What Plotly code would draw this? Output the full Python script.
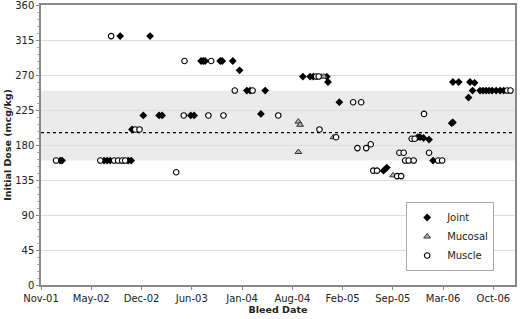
import pandas as pd
import plotly.graph_objects as go

# Bleed dates stored as Excel serial day numbers (as in the source workbook)
joint_date = [37276, 37284, 37451, 37463, 37475, 37547, 37559, 37515, 37634, 37562,
              37607, 37670, 37682, 37796, 37809, 37837, 37845, 37853, 37913, 37921,
              37963, 37990, 38019, 38032, 38092, 38075, 38242, 38271, 38283, 38337,
              38342, 38387, 38563, 38576, 38699, 38708, 38722, 38744, 38760, 38834,
              38839, 38839, 38862, 38907, 38925, 38917, 38947, 38959, 38971, 38983,
              38995, 39011, 39027, 39041, 38901]
joint_dose = [160, 160, 160, 160, 160, 160, 160, 320, 320, 200,
              218, 218, 218, 218, 218, 288, 288, 288, 288, 288,
              288, 276, 250, 250, 250, 220, 268, 268, 268, 268,
              261, 235, 147, 151, 190, 190, 189, 187, 160, 208,
              209, 261, 261, 261, 260, 250, 250, 250, 250, 250,
              250, 250, 250, 250, 241]

mucosal_date = [38224, 38231, 38224, 38315, 38325, 38364, 38601]
mucosal_dose = [210, 206, 171, 268, 268, 190, 141]

muscle_date = [37260, 37436, 37491, 37507, 37523, 37535, 37479, 37575, 37592, 37738,
               37768, 37866, 37926, 38144, 37771, 37877, 37971, 38042, 38308, 38295,
               38305, 38374, 38442, 38474, 38459, 38494, 38512, 38522, 38537, 38617,
               38633, 38626, 38643, 38744, 38649, 38663, 38683, 38675, 38687, 38724,
               38780, 38796, 39055, 39068]
muscle_dose = [160, 160, 160, 160, 160, 160, 320, 200, 200, 145,
               218, 218, 218, 218, 288, 288, 250, 250, 200, 268,
               268, 190, 235, 235, 176, 176, 181, 147, 147, 140,
               140, 170, 170, 170, 160, 160, 160, 188, 188, 220,
               160, 160, 250, 250]

band_low, band_high = 160, 250
mean_dose = 196

x_tick_serials = [37200, 37400, 37600, 37800, 38000, 38200, 38400, 38600, 38800, 39000]
x_tick_labels = ["Nov-01", "May-02", "Dec-02", "Jun-03", "Jan-04",
                 "Aug-04", "Feb-05", "Sep-05", "Mar-06", "Oct-06"]
x_range_serials = [37200, 39086]
y_ticks = [0, 45, 90, 135, 180, 225, 270, 315, 360]


def to_dt(s):
    return pd.to_datetime(pd.Series(s), unit="D", origin="1899-12-30")


x0, x1 = to_dt(x_range_serials)

FONT = "DejaVu Sans, Verdana, sans-serif"
fig = go.Figure()

fig.add_trace(go.Scatter(
    x=to_dt(joint_date), y=joint_dose, mode="markers", name="Joint",
    marker=dict(symbol="diamond", size=6, color="black", line=dict(width=0))))
fig.add_trace(go.Scatter(
    x=to_dt(mucosal_date), y=mucosal_dose, mode="markers", name="Mucosal",
    marker=dict(symbol="triangle-up", size=6, color="#b0b0b0",
                line=dict(width=1, color="#333333"))))
fig.add_trace(go.Scatter(
    x=to_dt(muscle_date), y=muscle_dose, mode="markers", name="Muscle",
    marker=dict(symbol="circle", size=5.5, color="white",
                line=dict(width=1.1, color="black"))))

# shaded range and dotted mean line
fig.add_shape(type="rect", xref="paper", x0=0, x1=1, yref="y",
              y0=band_low, y1=band_high, fillcolor="#ebebeb",
              line=dict(width=0), layer="below")
fig.add_shape(type="line", xref="paper", x0=0, x1=1, yref="y",
              y0=mean_dose, y1=mean_dose,
              line=dict(color="black", width=1.3, dash="dot"))

fig.update_layout(
    width=520, height=319,
    margin=dict(l=41, r=5, t=5, b=34, autoexpand=False),
    paper_bgcolor="white", plot_bgcolor="white",
    font=dict(family=FONT, size=10, color="#222222"),
    showlegend=True,
    legend=dict(x=0.956, y=0.05, xanchor="right", yanchor="bottom",
                bgcolor="white", bordercolor="#aaaaaa", borderwidth=1,
                font=dict(family=FONT, size=10, color="#222222"),
                tracegroupgap=0, itemwidth=30),
    xaxis=dict(
        type="date", range=[x0, x1], automargin=False, ticklabeloverflow="allow",
        tickmode="array", tickvals=list(to_dt(x_tick_serials)), ticktext=x_tick_labels,
        showgrid=False, zeroline=False,
        showline=True, linecolor="#888888", linewidth=1.5, mirror=True,
        ticks="outside", ticklen=3, tickcolor="#888888",
        tickfont=dict(size=10),
        title=dict(text="<b>Bleed Date</b>", font=dict(size=9.5), standoff=4),
    ),
    yaxis=dict(
        range=[0, 360], tickmode="array", tickvals=y_ticks, automargin=False,
        ticklabeloverflow="allow",
        showgrid=True, gridcolor="#dedede", gridwidth=1, zeroline=False,
        showline=True, linecolor="#888888", linewidth=1.5, mirror=True,
        ticks="outside", ticklen=3, tickcolor="#888888",
        minor=dict(dtick=9, ticks="outside", ticklen=2, tickcolor="#aaaaaa", showgrid=False),
        tickfont=dict(size=10),
        title=dict(text="<b>Initial Dose (mcg/kg)</b>", font=dict(size=9.5), standoff=2),
    ),
)

fig.write_html("out.html", config={"displayModeBar": False},
               post_script="document.body.style.margin='0';")
